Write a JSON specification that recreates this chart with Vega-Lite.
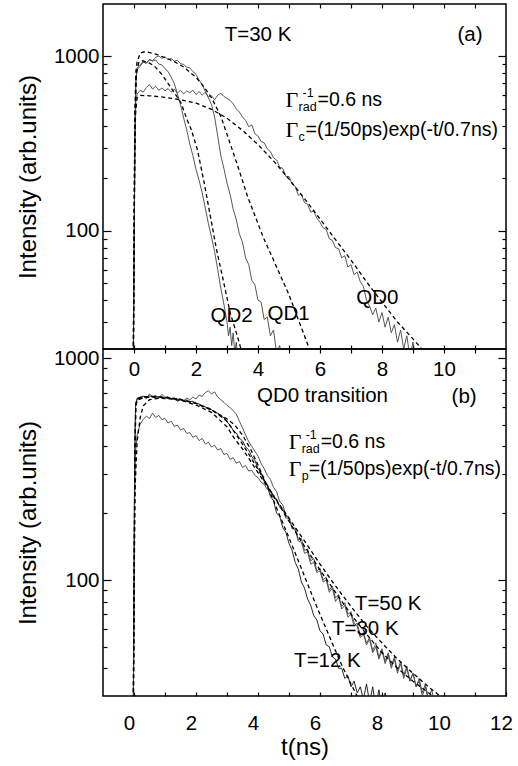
{
"$schema":"https://vega.github.io/schema/vega-lite/v6.json",
"padding":{"left":15,"top":2,"right":13,"bottom":2},
"background":"white",
"spacing":0,
"bounds":"flush",
"config":{
"view":{"stroke":"black","strokeWidth":1.5},
"font":"Liberation Sans",
"axis":{"labelFont":"Liberation Sans","labelFontSize":20.5,"titleFont":"Liberation Sans","titleFontSize":24,"titleFontWeight":"normal","labelColor":"black","titleColor":"black","tickColor":"black","tickWidth":1.2,"domain":false,"grid":false,"labelFlush":false,"labelOverlap":false},
"text":{"font":"Liberation Sans","fontSize":20.5,"color":"black"}
},
"datasets":{
"a":[
{"s":"a0","t":-0.02,"v":20},{"s":"a0","t":0.03,"v":300},{"s":"a0","t":0.06,"v":560},{"s":"a0","t":0.1,"v":610},{"s":"a0","t":0.2,"v":640},{"s":"a0","t":0.3,"v":625},{"s":"a0","t":0.4,"v":665},{"s":"a0","t":0.5,"v":690},{"s":"a0","t":0.6,"v":650},{"s":"a0","t":0.7,"v":675},{"s":"a0","t":0.8,"v":640},{"s":"a0","t":0.9,"v":660},{"s":"a0","t":1.0,"v":635},{"s":"a0","t":1.1,"v":655},{"s":"a0","t":1.2,"v":625},{"s":"a0","t":1.3,"v":650},{"s":"a0","t":1.4,"v":615},{"s":"a0","t":1.5,"v":640},{"s":"a0","t":1.6,"v":610},{"s":"a0","t":1.7,"v":635},{"s":"a0","t":1.8,"v":620},{"s":"a0","t":1.9,"v":640},{"s":"a0","t":2.0,"v":605},{"s":"a0","t":2.1,"v":630},{"s":"a0","t":2.2,"v":600},{"s":"a0","t":2.3,"v":625},{"s":"a0","t":2.4,"v":585},{"s":"a0","t":2.5,"v":595},{"s":"a0","t":2.6,"v":565},{"s":"a0","t":2.7,"v":600},{"s":"a0","t":2.8,"v":615},{"s":"a0","t":2.9,"v":590},{"s":"a0","t":3.0,"v":575},{"s":"a0","t":3.1,"v":560},{"s":"a0","t":3.2,"v":535},{"s":"a0","t":3.3,"v":500},{"s":"a0","t":3.4,"v":480},{"s":"a0","t":3.5,"v":450},{"s":"a0","t":3.6,"v":430},{"s":"a0","t":3.7,"v":395},{"s":"a0","t":3.8,"v":405},{"s":"a0","t":3.9,"v":360},{"s":"a0","t":4.0,"v":350},{"s":"a0","t":4.1,"v":325},{"s":"a0","t":4.2,"v":320},{"s":"a0","t":4.3,"v":295},{"s":"a0","t":4.4,"v":285},{"s":"a0","t":4.5,"v":262},{"s":"a0","t":4.6,"v":255},{"s":"a0","t":4.7,"v":232},{"s":"a0","t":4.8,"v":228},{"s":"a0","t":4.9,"v":205},{"s":"a0","t":5.0,"v":205},{"s":"a0","t":5.1,"v":185},{"s":"a0","t":5.2,"v":180},{"s":"a0","t":5.3,"v":160},{"s":"a0","t":5.4,"v":162},{"s":"a0","t":5.5,"v":145},{"s":"a0","t":5.6,"v":142},{"s":"a0","t":5.7,"v":128},{"s":"a0","t":5.8,"v":130},{"s":"a0","t":5.9,"v":118},{"s":"a0","t":6.0,"v":112},{"s":"a0","t":6.1,"v":104},{"s":"a0","t":6.2,"v":102},{"s":"a0","t":6.3,"v":90},{"s":"a0","t":6.4,"v":88},{"s":"a0","t":6.5,"v":80},{"s":"a0","t":6.6,"v":79},{"s":"a0","t":6.7,"v":70},{"s":"a0","t":6.8,"v":72},{"s":"a0","t":6.9,"v":62},{"s":"a0","t":7.0,"v":64},{"s":"a0","t":7.1,"v":56},{"s":"a0","t":7.2,"v":58},{"s":"a0","t":7.3,"v":51},{"s":"a0","t":7.4,"v":48},{"s":"a0","t":7.5,"v":40},{"s":"a0","t":7.6,"v":37},{"s":"a0","t":7.7,"v":33},{"s":"a0","t":7.8,"v":36},{"s":"a0","t":7.9,"v":30},{"s":"a0","t":8.0,"v":34},{"s":"a0","t":8.1,"v":28},{"s":"a0","t":8.2,"v":32},{"s":"a0","t":8.3,"v":26},{"s":"a0","t":8.4,"v":29},{"s":"a0","t":8.5,"v":23},{"s":"a0","t":8.6,"v":27},{"s":"a0","t":8.7,"v":21},{"s":"a0","t":8.8,"v":25},{"s":"a0","t":8.9,"v":19},{"s":"a0","t":9.0,"v":23},{"s":"a0","t":9.1,"v":18},{"s":"a0","t":9.2,"v":21},{"s":"a0","t":9.3,"v":16},
{"s":"a1","t":-0.02,"v":20},{"s":"a1","t":0.03,"v":400},{"s":"a1","t":0.06,"v":750},{"s":"a1","t":0.1,"v":860},{"s":"a1","t":0.2,"v":900},{"s":"a1","t":0.3,"v":930},{"s":"a1","t":0.4,"v":915},{"s":"a1","t":0.5,"v":960},{"s":"a1","t":0.6,"v":945},{"s":"a1","t":0.7,"v":990},{"s":"a1","t":0.8,"v":1005},{"s":"a1","t":0.9,"v":975},{"s":"a1","t":1.0,"v":995},{"s":"a1","t":1.1,"v":960},{"s":"a1","t":1.2,"v":975},{"s":"a1","t":1.3,"v":940},{"s":"a1","t":1.4,"v":950},{"s":"a1","t":1.5,"v":910},{"s":"a1","t":1.6,"v":900},{"s":"a1","t":1.7,"v":870},{"s":"a1","t":1.8,"v":860},{"s":"a1","t":1.9,"v":820},{"s":"a1","t":2.0,"v":790},{"s":"a1","t":2.1,"v":730},{"s":"a1","t":2.2,"v":690},{"s":"a1","t":2.3,"v":630},{"s":"a1","t":2.4,"v":580},{"s":"a1","t":2.5,"v":530},{"s":"a1","t":2.6,"v":450},{"s":"a1","t":2.7,"v":350},{"s":"a1","t":2.8,"v":270},{"s":"a1","t":2.9,"v":228},{"s":"a1","t":3.0,"v":188},{"s":"a1","t":3.1,"v":162},{"s":"a1","t":3.2,"v":133},{"s":"a1","t":3.3,"v":116},{"s":"a1","t":3.4,"v":96},{"s":"a1","t":3.5,"v":86},{"s":"a1","t":3.6,"v":70},{"s":"a1","t":3.7,"v":64},{"s":"a1","t":3.8,"v":52},{"s":"a1","t":3.9,"v":49},{"s":"a1","t":4.0,"v":40},{"s":"a1","t":4.1,"v":39},{"s":"a1","t":4.2,"v":31},{"s":"a1","t":4.3,"v":32},{"s":"a1","t":4.4,"v":25},{"s":"a1","t":4.5,"v":27},{"s":"a1","t":4.6,"v":20},{"s":"a1","t":4.7,"v":22},{"s":"a1","t":4.8,"v":17},
{"s":"a2","t":-0.02,"v":20},{"s":"a2","t":0.03,"v":350},{"s":"a2","t":0.06,"v":700},{"s":"a2","t":0.1,"v":840},{"s":"a2","t":0.2,"v":880},{"s":"a2","t":0.3,"v":930},{"s":"a2","t":0.4,"v":915},{"s":"a2","t":0.5,"v":960},{"s":"a2","t":0.6,"v":940},{"s":"a2","t":0.7,"v":955},{"s":"a2","t":0.8,"v":905},{"s":"a2","t":0.9,"v":895},{"s":"a2","t":1.0,"v":850},{"s":"a2","t":1.1,"v":820},{"s":"a2","t":1.2,"v":760},{"s":"a2","t":1.3,"v":700},{"s":"a2","t":1.4,"v":610},{"s":"a2","t":1.5,"v":530},{"s":"a2","t":1.6,"v":445},{"s":"a2","t":1.7,"v":380},{"s":"a2","t":1.8,"v":315},{"s":"a2","t":1.9,"v":270},{"s":"a2","t":2.0,"v":225},{"s":"a2","t":2.1,"v":195},{"s":"a2","t":2.2,"v":165},{"s":"a2","t":2.3,"v":135},{"s":"a2","t":2.4,"v":110},{"s":"a2","t":2.5,"v":92},{"s":"a2","t":2.6,"v":76},{"s":"a2","t":2.7,"v":60},{"s":"a2","t":2.8,"v":47},{"s":"a2","t":2.9,"v":38},{"s":"a2","t":3.0,"v":30},{"s":"a2","t":3.05,"v":25},{"s":"a2","t":3.1,"v":28},{"s":"a2","t":3.15,"v":22},{"s":"a2","t":3.2,"v":26},{"s":"a2","t":3.25,"v":20},{"s":"a2","t":3.3,"v":23},{"s":"a2","t":3.35,"v":18},
{"s":"fa0","t":-0.02,"v":20},{"s":"fa0","t":0.02,"v":300},{"s":"fa0","t":0.05,"v":470},{"s":"fa0","t":0.1,"v":580},{"s":"fa0","t":0.2,"v":598},{"s":"fa0","t":0.5,"v":595},{"s":"fa0","t":1.0,"v":583},{"s":"fa0","t":1.5,"v":565},{"s":"fa0","t":2.0,"v":540},{"s":"fa0","t":2.5,"v":498},{"s":"fa0","t":3.0,"v":442},{"s":"fa0","t":3.5,"v":377},{"s":"fa0","t":4.0,"v":312},{"s":"fa0","t":4.5,"v":252},{"s":"fa0","t":5.0,"v":198},{"s":"fa0","t":5.5,"v":153},{"s":"fa0","t":6.0,"v":117},{"s":"fa0","t":6.5,"v":89},{"s":"fa0","t":7.0,"v":68},{"s":"fa0","t":7.5,"v":51},{"s":"fa0","t":8.0,"v":39},{"s":"fa0","t":8.5,"v":30},{"s":"fa0","t":9.0,"v":24},{"s":"fa0","t":9.5,"v":19},
{"s":"fa1","t":-0.02,"v":20},{"s":"fa1","t":0.03,"v":500},{"s":"fa1","t":0.06,"v":820},{"s":"fa1","t":0.1,"v":930},{"s":"fa1","t":0.2,"v":1045},{"s":"fa1","t":0.3,"v":1062},{"s":"fa1","t":0.45,"v":1058},{"s":"fa1","t":0.7,"v":1030},{"s":"fa1","t":1.0,"v":985},{"s":"fa1","t":1.3,"v":935},{"s":"fa1","t":1.6,"v":870},{"s":"fa1","t":2.0,"v":760},{"s":"fa1","t":2.2,"v":690},{"s":"fa1","t":2.5,"v":580},{"s":"fa1","t":2.8,"v":455},{"s":"fa1","t":3.12,"v":310},{"s":"fa1","t":3.4,"v":220},{"s":"fa1","t":3.66,"v":158},{"s":"fa1","t":4.0,"v":110},{"s":"fa1","t":4.19,"v":90},{"s":"fa1","t":4.5,"v":68},{"s":"fa1","t":4.73,"v":55},{"s":"fa1","t":5.0,"v":43},{"s":"fa1","t":5.27,"v":32},{"s":"fa1","t":5.5,"v":25},{"s":"fa1","t":5.7,"v":20},
{"s":"fa2","t":-0.02,"v":20},{"s":"fa2","t":0.03,"v":400},{"s":"fa2","t":0.08,"v":800},{"s":"fa2","t":0.15,"v":920},{"s":"fa2","t":0.28,"v":945},{"s":"fa2","t":0.5,"v":915},{"s":"fa2","t":0.65,"v":884},{"s":"fa2","t":0.9,"v":790},{"s":"fa2","t":1.08,"v":709},{"s":"fa2","t":1.3,"v":620},{"s":"fa2","t":1.51,"v":545},{"s":"fa2","t":1.7,"v":440},{"s":"fa2","t":1.85,"v":380},{"s":"fa2","t":2.05,"v":290},{"s":"fa2","t":2.26,"v":190},{"s":"fa2","t":2.45,"v":125},{"s":"fa2","t":2.65,"v":80},{"s":"fa2","t":2.9,"v":50},{"s":"fa2","t":3.1,"v":34},{"s":"fa2","t":3.33,"v":25},{"s":"fa2","t":3.45,"v":21},{"s":"fa2","t":3.55,"v":18}
],
"b":[
{"s":"b12","t":-0.02,"v":29},{"s":"b12","t":0.02,"v":300},{"s":"b12","t":0.05,"v":620},{"s":"b12","t":0.1,"v":660},{"s":"b12","t":0.2,"v":668},{"s":"b12","t":0.3,"v":674},{"s":"b12","t":0.4,"v":668},{"s":"b12","t":0.5,"v":676},{"s":"b12","t":0.6,"v":670},{"s":"b12","t":0.7,"v":674},{"s":"b12","t":0.8,"v":666},{"s":"b12","t":0.9,"v":670},{"s":"b12","t":1.0,"v":662},{"s":"b12","t":1.1,"v":666},{"s":"b12","t":1.2,"v":658},{"s":"b12","t":1.3,"v":662},{"s":"b12","t":1.4,"v":652},{"s":"b12","t":1.5,"v":656},{"s":"b12","t":1.6,"v":645},{"s":"b12","t":1.7,"v":648},{"s":"b12","t":1.8,"v":636},{"s":"b12","t":1.9,"v":640},{"s":"b12","t":2.0,"v":625},{"s":"b12","t":2.1,"v":622},{"s":"b12","t":2.2,"v":606},{"s":"b12","t":2.3,"v":604},{"s":"b12","t":2.4,"v":588},{"s":"b12","t":2.5,"v":586},{"s":"b12","t":2.6,"v":570},{"s":"b12","t":2.7,"v":566},{"s":"b12","t":2.8,"v":548},{"s":"b12","t":2.9,"v":540},{"s":"b12","t":3.0,"v":515},{"s":"b12","t":3.1,"v":500},{"s":"b12","t":3.2,"v":472},{"s":"b12","t":3.3,"v":460},{"s":"b12","t":3.4,"v":436},{"s":"b12","t":3.5,"v":424},{"s":"b12","t":3.6,"v":398},{"s":"b12","t":3.7,"v":386},{"s":"b12","t":3.8,"v":360},{"s":"b12","t":3.9,"v":346},{"s":"b12","t":4.0,"v":318},{"s":"b12","t":4.1,"v":304},{"s":"b12","t":4.2,"v":278},{"s":"b12","t":4.3,"v":266},{"s":"b12","t":4.4,"v":238},{"s":"b12","t":4.5,"v":228},{"s":"b12","t":4.6,"v":200},{"s":"b12","t":4.7,"v":194},{"s":"b12","t":4.8,"v":172},{"s":"b12","t":4.9,"v":164},{"s":"b12","t":5.0,"v":146},{"s":"b12","t":5.1,"v":136},{"s":"b12","t":5.2,"v":120},{"s":"b12","t":5.3,"v":112},{"s":"b12","t":5.4,"v":98},{"s":"b12","t":5.5,"v":92},{"s":"b12","t":5.6,"v":82},{"s":"b12","t":5.7,"v":77},{"s":"b12","t":5.8,"v":69},{"s":"b12","t":5.9,"v":66},{"s":"b12","t":6.0,"v":59},{"s":"b12","t":6.1,"v":57},{"s":"b12","t":6.2,"v":51},{"s":"b12","t":6.3,"v":50},{"s":"b12","t":6.4,"v":45},{"s":"b12","t":6.5,"v":44},{"s":"b12","t":6.6,"v":40},{"s":"b12","t":6.7,"v":40},{"s":"b12","t":6.8,"v":36},{"s":"b12","t":6.9,"v":37},{"s":"b12","t":7.0,"v":33},{"s":"b12","t":7.1,"v":35},{"s":"b12","t":7.2,"v":31},{"s":"b12","t":7.3,"v":33},{"s":"b12","t":7.4,"v":29},{"s":"b12","t":7.5,"v":34},{"s":"b12","t":7.6,"v":28},{"s":"b12","t":7.7,"v":33},{"s":"b12","t":7.8,"v":27},{"s":"b12","t":7.9,"v":32},{"s":"b12","t":8.0,"v":26},{"s":"b12","t":8.1,"v":31},{"s":"b12","t":8.2,"v":27},{"s":"b12","t":8.3,"v":30},{"s":"b12","t":8.4,"v":25},{"s":"b12","t":8.5,"v":29},{"s":"b12","t":8.6,"v":24},{"s":"b12","t":8.7,"v":28},{"s":"b12","t":8.8,"v":23},{"s":"b12","t":8.9,"v":26},
{"s":"b30","t":-0.02,"v":29},{"s":"b30","t":0.02,"v":350},{"s":"b30","t":0.05,"v":610},{"s":"b30","t":0.1,"v":650},{"s":"b30","t":0.2,"v":660},{"s":"b30","t":0.3,"v":672},{"s":"b30","t":0.4,"v":655},{"s":"b30","t":0.5,"v":690},{"s":"b30","t":0.6,"v":670},{"s":"b30","t":0.7,"v":680},{"s":"b30","t":0.8,"v":660},{"s":"b30","t":0.9,"v":688},{"s":"b30","t":1.0,"v":665},{"s":"b30","t":1.1,"v":672},{"s":"b30","t":1.2,"v":650},{"s":"b30","t":1.3,"v":660},{"s":"b30","t":1.4,"v":638},{"s":"b30","t":1.5,"v":652},{"s":"b30","t":1.6,"v":640},{"s":"b30","t":1.7,"v":662},{"s":"b30","t":1.8,"v":648},{"s":"b30","t":1.9,"v":668},{"s":"b30","t":2.0,"v":655},{"s":"b30","t":2.1,"v":682},{"s":"b30","t":2.2,"v":672},{"s":"b30","t":2.3,"v":700},{"s":"b30","t":2.4,"v":712},{"s":"b30","t":2.5,"v":690},{"s":"b30","t":2.6,"v":705},{"s":"b30","t":2.7,"v":668},{"s":"b30","t":2.8,"v":650},{"s":"b30","t":2.9,"v":632},{"s":"b30","t":3.0,"v":612},{"s":"b30","t":3.1,"v":598},{"s":"b30","t":3.2,"v":580},{"s":"b30","t":3.3,"v":560},{"s":"b30","t":3.4,"v":520},{"s":"b30","t":3.5,"v":485},{"s":"b30","t":3.6,"v":450},{"s":"b30","t":3.7,"v":420},{"s":"b30","t":3.8,"v":400},{"s":"b30","t":3.9,"v":380},{"s":"b30","t":4.0,"v":362},{"s":"b30","t":4.1,"v":335},{"s":"b30","t":4.2,"v":318},{"s":"b30","t":4.3,"v":296},{"s":"b30","t":4.4,"v":284},{"s":"b30","t":4.5,"v":262},{"s":"b30","t":4.6,"v":250},{"s":"b30","t":4.7,"v":226},{"s":"b30","t":4.8,"v":218},{"s":"b30","t":4.9,"v":196},{"s":"b30","t":5.0,"v":192},{"s":"b30","t":5.1,"v":172},{"s":"b30","t":5.2,"v":168},{"s":"b30","t":5.3,"v":150},{"s":"b30","t":5.4,"v":148},{"s":"b30","t":5.5,"v":132},{"s":"b30","t":5.6,"v":134},{"s":"b30","t":5.7,"v":118},{"s":"b30","t":5.8,"v":120},{"s":"b30","t":5.9,"v":108},{"s":"b30","t":6.0,"v":110},{"s":"b30","t":6.1,"v":98},{"s":"b30","t":6.2,"v":100},{"s":"b30","t":6.3,"v":88},{"s":"b30","t":6.4,"v":92},{"s":"b30","t":6.5,"v":80},{"s":"b30","t":6.6,"v":84},{"s":"b30","t":6.7,"v":74},{"s":"b30","t":6.8,"v":77},{"s":"b30","t":6.9,"v":68},{"s":"b30","t":7.0,"v":70},{"s":"b30","t":7.1,"v":62},{"s":"b30","t":7.2,"v":64},{"s":"b30","t":7.3,"v":56},{"s":"b30","t":7.4,"v":58},{"s":"b30","t":7.5,"v":52},{"s":"b30","t":7.6,"v":55},{"s":"b30","t":7.7,"v":48},{"s":"b30","t":7.8,"v":52},{"s":"b30","t":7.9,"v":45},{"s":"b30","t":8.0,"v":49},{"s":"b30","t":8.1,"v":43},{"s":"b30","t":8.2,"v":47},{"s":"b30","t":8.3,"v":41},{"s":"b30","t":8.4,"v":45},{"s":"b30","t":8.5,"v":39},{"s":"b30","t":8.6,"v":43},{"s":"b30","t":8.7,"v":37},{"s":"b30","t":8.8,"v":41},{"s":"b30","t":8.9,"v":35},{"s":"b30","t":9.0,"v":38},{"s":"b30","t":9.1,"v":33},{"s":"b30","t":9.2,"v":36},{"s":"b30","t":9.3,"v":31},{"s":"b30","t":9.4,"v":34},{"s":"b30","t":9.5,"v":29},{"s":"b30","t":9.6,"v":32},{"s":"b30","t":9.7,"v":28},
{"s":"b50","t":-0.02,"v":29},{"s":"b50","t":0.02,"v":220},{"s":"b50","t":0.05,"v":380},{"s":"b50","t":0.1,"v":450},{"s":"b50","t":0.2,"v":505},{"s":"b50","t":0.3,"v":530},{"s":"b50","t":0.4,"v":548},{"s":"b50","t":0.5,"v":535},{"s":"b50","t":0.6,"v":566},{"s":"b50","t":0.7,"v":540},{"s":"b50","t":0.8,"v":552},{"s":"b50","t":0.9,"v":528},{"s":"b50","t":1.0,"v":535},{"s":"b50","t":1.1,"v":510},{"s":"b50","t":1.2,"v":520},{"s":"b50","t":1.3,"v":492},{"s":"b50","t":1.4,"v":500},{"s":"b50","t":1.5,"v":475},{"s":"b50","t":1.6,"v":482},{"s":"b50","t":1.7,"v":458},{"s":"b50","t":1.8,"v":462},{"s":"b50","t":1.9,"v":440},{"s":"b50","t":2.0,"v":448},{"s":"b50","t":2.1,"v":425},{"s":"b50","t":2.2,"v":435},{"s":"b50","t":2.3,"v":410},{"s":"b50","t":2.4,"v":418},{"s":"b50","t":2.5,"v":398},{"s":"b50","t":2.6,"v":405},{"s":"b50","t":2.7,"v":385},{"s":"b50","t":2.8,"v":392},{"s":"b50","t":2.9,"v":368},{"s":"b50","t":3.0,"v":372},{"s":"b50","t":3.1,"v":350},{"s":"b50","t":3.2,"v":356},{"s":"b50","t":3.3,"v":336},{"s":"b50","t":3.4,"v":342},{"s":"b50","t":3.5,"v":322},{"s":"b50","t":3.6,"v":328},{"s":"b50","t":3.7,"v":310},{"s":"b50","t":3.8,"v":312},{"s":"b50","t":3.9,"v":296},{"s":"b50","t":4.0,"v":290},{"s":"b50","t":4.1,"v":276},{"s":"b50","t":4.2,"v":270},{"s":"b50","t":4.3,"v":256},{"s":"b50","t":4.4,"v":250},{"s":"b50","t":4.5,"v":234},{"s":"b50","t":4.6,"v":232},{"s":"b50","t":4.7,"v":212},{"s":"b50","t":4.8,"v":210},{"s":"b50","t":4.9,"v":190},{"s":"b50","t":5.0,"v":190},{"s":"b50","t":5.1,"v":170},{"s":"b50","t":5.2,"v":172},{"s":"b50","t":5.3,"v":152},{"s":"b50","t":5.4,"v":154},{"s":"b50","t":5.5,"v":136},{"s":"b50","t":5.6,"v":138},{"s":"b50","t":5.7,"v":122},{"s":"b50","t":5.8,"v":125},{"s":"b50","t":5.9,"v":110},{"s":"b50","t":6.0,"v":113},{"s":"b50","t":6.1,"v":100},{"s":"b50","t":6.2,"v":103},{"s":"b50","t":6.3,"v":90},{"s":"b50","t":6.4,"v":94},{"s":"b50","t":6.5,"v":83},{"s":"b50","t":6.6,"v":86},{"s":"b50","t":6.7,"v":76},{"s":"b50","t":6.8,"v":79},{"s":"b50","t":6.9,"v":70},{"s":"b50","t":7.0,"v":72},{"s":"b50","t":7.1,"v":64},{"s":"b50","t":7.2,"v":62},{"s":"b50","t":7.3,"v":55},{"s":"b50","t":7.4,"v":57},{"s":"b50","t":7.5,"v":51},{"s":"b50","t":7.6,"v":54},{"s":"b50","t":7.7,"v":47},{"s":"b50","t":7.8,"v":50},{"s":"b50","t":7.9,"v":44},{"s":"b50","t":8.0,"v":48},{"s":"b50","t":8.1,"v":42},{"s":"b50","t":8.2,"v":46},{"s":"b50","t":8.3,"v":40},{"s":"b50","t":8.4,"v":44},{"s":"b50","t":8.5,"v":38},{"s":"b50","t":8.6,"v":42},{"s":"b50","t":8.7,"v":36},{"s":"b50","t":8.8,"v":40},{"s":"b50","t":8.9,"v":35},{"s":"b50","t":9.0,"v":38},{"s":"b50","t":9.1,"v":33},{"s":"b50","t":9.2,"v":35},{"s":"b50","t":9.3,"v":30},{"s":"b50","t":9.4,"v":33},{"s":"b50","t":9.5,"v":28},
{"s":"fb12","t":-0.02,"v":29},{"s":"fb12","t":0.03,"v":400},{"s":"fb12","t":0.06,"v":620},{"s":"fb12","t":0.1,"v":655},{"s":"fb12","t":0.3,"v":670},{"s":"fb12","t":0.6,"v":672},{"s":"fb12","t":1.0,"v":666},{"s":"fb12","t":1.5,"v":650},{"s":"fb12","t":2.0,"v":625},{"s":"fb12","t":2.5,"v":585},{"s":"fb12","t":3.0,"v":532},{"s":"fb12","t":3.25,"v":500},{"s":"fb12","t":3.5,"v":450},{"s":"fb12","t":3.75,"v":392},{"s":"fb12","t":4.0,"v":330},{"s":"fb12","t":4.25,"v":275},{"s":"fb12","t":4.5,"v":228},{"s":"fb12","t":4.75,"v":188},{"s":"fb12","t":5.0,"v":155},{"s":"fb12","t":5.25,"v":127},{"s":"fb12","t":5.5,"v":104},{"s":"fb12","t":5.75,"v":85},{"s":"fb12","t":6.0,"v":70},{"s":"fb12","t":6.25,"v":58},{"s":"fb12","t":6.5,"v":48},{"s":"fb12","t":6.75,"v":40},{"s":"fb12","t":7.0,"v":34},{"s":"fb12","t":7.25,"v":29},
{"s":"fb30","t":-0.02,"v":29},{"s":"fb30","t":0.03,"v":380},{"s":"fb30","t":0.06,"v":600},{"s":"fb30","t":0.1,"v":645},{"s":"fb30","t":0.3,"v":665},{"s":"fb30","t":0.6,"v":668},{"s":"fb30","t":1.0,"v":664},{"s":"fb30","t":1.5,"v":650},{"s":"fb30","t":2.0,"v":626},{"s":"fb30","t":2.5,"v":588},{"s":"fb30","t":3.0,"v":520},{"s":"fb30","t":3.25,"v":462},{"s":"fb30","t":3.5,"v":410},{"s":"fb30","t":3.75,"v":360},{"s":"fb30","t":4.0,"v":315},{"s":"fb30","t":4.25,"v":275},{"s":"fb30","t":4.5,"v":240},{"s":"fb30","t":4.75,"v":210},{"s":"fb30","t":5.0,"v":184},{"s":"fb30","t":5.5,"v":142},{"s":"fb30","t":6.0,"v":111},{"s":"fb30","t":6.5,"v":88},{"s":"fb30","t":7.0,"v":70},{"s":"fb30","t":7.5,"v":57},{"s":"fb30","t":8.0,"v":47},{"s":"fb30","t":8.5,"v":40},{"s":"fb30","t":9.0,"v":35},{"s":"fb30","t":9.5,"v":31},{"s":"fb30","t":9.8,"v":29},
{"s":"fb50","t":-0.02,"v":29},{"s":"fb50","t":0.03,"v":250},{"s":"fb50","t":0.1,"v":420},{"s":"fb50","t":0.2,"v":540},{"s":"fb50","t":0.3,"v":610},{"s":"fb50","t":0.5,"v":650},{"s":"fb50","t":0.8,"v":660},{"s":"fb50","t":1.2,"v":655},{"s":"fb50","t":1.6,"v":640},{"s":"fb50","t":2.0,"v":615},{"s":"fb50","t":2.5,"v":570},{"s":"fb50","t":3.0,"v":490},{"s":"fb50","t":3.25,"v":432},{"s":"fb50","t":3.5,"v":390},{"s":"fb50","t":3.75,"v":345},{"s":"fb50","t":4.0,"v":305},{"s":"fb50","t":4.25,"v":270},{"s":"fb50","t":4.5,"v":240},{"s":"fb50","t":4.75,"v":213},{"s":"fb50","t":5.0,"v":190},{"s":"fb50","t":5.5,"v":150},{"s":"fb50","t":6.0,"v":118},{"s":"fb50","t":6.5,"v":94},{"s":"fb50","t":7.0,"v":76},{"s":"fb50","t":7.5,"v":62},{"s":"fb50","t":8.0,"v":52},{"s":"fb50","t":8.5,"v":44},{"s":"fb50","t":9.0,"v":38},{"s":"fb50","t":9.5,"v":33},{"s":"fb50","t":10.0,"v":29}
],
"na":[{"t":4.0,"v":1320,"txt":"T=30 K"},{"t":10.84,"v":1320,"txt":"(a)"},{"t":7.85,"v":41,"txt":"QD0"},{"t":4.99,"v":33.3,"txt":"QD1"},{"t":3.15,"v":32.5,"txt":"QD2"}],
"ga":[{"t":4.89,"v":566,"sub":"rad","sup":"-1","rest":"=0.6 ns","n":1},{"t":4.89,"v":380,"sub":"c","sup":"","rest":"=(1/50ps)exp(-t/0.7ns)","n":2}],
"nb":[{"t":6.08,"v":674,"txt":"QD0 transition"},{"t":10.65,"v":667,"txt":"(b)"},{"t":8.2,"v":78,"txt":"T=50 K"},{"t":7.46,"v":60.1,"txt":"T=30 K"},{"t":6.24,"v":43.2,"txt":"T=12 K"}],
"gb":[{"t":4.99,"v":418,"sub":"rad","sup":"-1","rest":"=0.6 ns","n":1},{"t":4.99,"v":316,"sub":"p","sup":"","rest":"=(1/50ps)exp(-t/0.7ns)","n":2}]
},
"vconcat":[
{
"width":403,"height":345,
"resolve":{"axis":{"x":"independent","y":"independent"}},
"layer":[
{"data":{"name":"a"},"transform":[{"filter":"indexof(datum.s,'f')<0"}],
"mark":{"type":"line","clip":true,"strokeWidth":0.9,"color":"#444444"},
"encoding":{
"x":{"field":"t","type":"quantitative","scale":{"domain":[-1,12],"nice":false,"zero":false},"axis":{"orient":"bottom","values":[0,1,2,3,4,5,6,7,8,9,10,11],"labelExpr":"datum.value % 2 == 0 ? datum.label : ''","tickSize":-4,"labelPadding":14,"title":null}},
"y":{"field":"v","type":"quantitative","scale":{"type":"log","domain":[21,2000],"nice":false},"axis":{"orient":"left","values":[30,40,50,60,70,80,90,100,200,300,400,500,600,700,800,900,1000],"labelExpr":"datum.value==100?'100':datum.value==1000?'1000':''","tickSize":{"condition":{"test":"datum.value==100||datum.value==1000","value":-8},"value":-4},"labelPadding":12,"title":"Intensity (arb.units)","titlePadding":13}},
"detail":{"field":"s"}}},
{"data":{"name":"a"},"transform":[{"filter":"indexof(datum.s,'f')==0"}],
"mark":{"type":"line","clip":true,"strokeWidth":1.3,"color":"black","strokeDash":[4,3]},
"encoding":{
"x":{"field":"t","type":"quantitative","scale":{"domain":[-1,12],"nice":false,"zero":false},"axis":{"orient":"top","values":[0,1,2,3,4,5,6,7,8,9,10,11],"labels":false,"tickSize":-4,"title":null}},
"y":{"field":"v","type":"quantitative","scale":{"type":"log","domain":[21,2000],"nice":false},"axis":{"orient":"right","values":[30,40,50,60,70,80,90,100,200,300,400,500,600,700,800,900,1000],"labels":false,"tickSize":{"condition":{"test":"datum.value==100||datum.value==1000","value":-8},"value":-4},"title":null}},
"detail":{"field":"s"}}},
{"data":{"name":"na"},"mark":{"type":"text","align":"center","baseline":"middle","fontSize":20.5},
"encoding":{"x":{"field":"t","type":"quantitative","scale":{"domain":[-1,12],"nice":false,"zero":false},"axis":null},"y":{"field":"v","type":"quantitative","scale":{"type":"log","domain":[21,2000],"nice":false},"axis":null},"text":{"field":"txt"}}},
{"data":{"name":"ga"},"mark":{"type":"text","align":"left","baseline":"middle","font":"Liberation Serif","fontSize":22},
"encoding":{"x":{"field":"t","type":"quantitative","scale":{"domain":[-1,12],"nice":false,"zero":false},"axis":null},"y":{"field":"v","type":"quantitative","scale":{"type":"log","domain":[21,2000],"nice":false},"axis":null},"text":{"value":"Γ"}}},
{"data":{"name":"ga"},"mark":{"type":"text","align":"left","baseline":"middle","fontSize":12.5,"dx":13,"dy":7},
"encoding":{"x":{"field":"t","type":"quantitative","scale":{"domain":[-1,12],"nice":false,"zero":false},"axis":null},"y":{"field":"v","type":"quantitative","scale":{"type":"log","domain":[21,2000],"nice":false},"axis":null},"text":{"field":"sub"}}},
{"data":{"name":"ga"},"mark":{"type":"text","align":"left","baseline":"middle","fontSize":12.5,"dx":17,"dy":-7},
"encoding":{"x":{"field":"t","type":"quantitative","scale":{"domain":[-1,12],"nice":false,"zero":false},"axis":null},"y":{"field":"v","type":"quantitative","scale":{"type":"log","domain":[21,2000],"nice":false},"axis":null},"text":{"field":"sup"}}},
{"data":{"name":"ga"},"transform":[{"filter":"datum.n==1"}],"mark":{"type":"text","align":"left","baseline":"middle","fontSize":19.5,"dx":32},
"encoding":{"x":{"field":"t","type":"quantitative","scale":{"domain":[-1,12],"nice":false,"zero":false},"axis":null},"y":{"field":"v","type":"quantitative","scale":{"type":"log","domain":[21,2000],"nice":false},"axis":null},"text":{"field":"rest"}}},
{"data":{"name":"ga"},"transform":[{"filter":"datum.n==2"}],"mark":{"type":"text","align":"left","baseline":"middle","fontSize":19.5,"dx":20},
"encoding":{"x":{"field":"t","type":"quantitative","scale":{"domain":[-1,12],"nice":false,"zero":false},"axis":null},"y":{"field":"v","type":"quantitative","scale":{"type":"log","domain":[21,2000],"nice":false},"axis":null},"text":{"field":"rest"}}}
]
},
{
"width":403,"height":347,
"resolve":{"axis":{"x":"independent","y":"independent"}},
"layer":[
{"data":{"name":"b"},"transform":[{"filter":"indexof(datum.s,'f')<0"}],
"mark":{"type":"line","clip":true,"strokeWidth":0.9},
"encoding":{
"x":{"field":"t","type":"quantitative","scale":{"domain":[-1,12],"nice":false,"zero":false},"axis":{"orient":"bottom","values":[0,1,2,3,4,5,6,7,8,9,10,11,12],"labelExpr":"datum.value % 2 == 0 ? datum.label : ''","tickSize":-4,"labelPadding":21,"labelOffset":-5,"title":"t(ns)","titlePadding":2}},
"y":{"field":"v","type":"quantitative","scale":{"type":"log","domain":[30,1100],"nice":false},"axis":{"orient":"left","values":[40,50,60,70,80,90,100,200,300,400,500,600,700,800,900,1000],"labelExpr":"datum.value==100?'100':datum.value==1000?'1000':''","tickSize":{"condition":{"test":"datum.value==100||datum.value==1000","value":-8},"value":-4},"labelPadding":12,"title":"Intensity (arb.units)","titlePadding":13}},
"color":{"field":"s","type":"nominal","scale":{"domain":["b12","b30","b50"],"range":["#111111","#444444","#444444"]},"legend":null}}},
{"data":{"name":"b"},"transform":[{"filter":"indexof(datum.s,'f')==0"}],
"mark":{"type":"line","clip":true,"strokeWidth":1.3,"color":"black","strokeDash":[4,3]},
"encoding":{
"x":{"field":"t","type":"quantitative","scale":{"domain":[-1,12],"nice":false,"zero":false},"axis":{"orient":"top","values":[0,1,2,3,4,5,6,7,8,9,10,11],"labels":false,"tickSize":-4,"title":null}},
"y":{"field":"v","type":"quantitative","scale":{"type":"log","domain":[30,1100],"nice":false},"axis":{"orient":"right","values":[40,50,60,70,80,90,100,200,300,400,500,600,700,800,900,1000],"labels":false,"tickSize":{"condition":{"test":"datum.value==100||datum.value==1000","value":-8},"value":-4},"title":null}},
"detail":{"field":"s"}}},
{"data":{"name":"nb"},"mark":{"type":"text","align":"center","baseline":"middle","fontSize":20.5},
"encoding":{"x":{"field":"t","type":"quantitative","scale":{"domain":[-1,12],"nice":false,"zero":false},"axis":null},"y":{"field":"v","type":"quantitative","scale":{"type":"log","domain":[30,1100],"nice":false},"axis":null},"text":{"field":"txt"}}},
{"data":{"name":"gb"},"mark":{"type":"text","align":"left","baseline":"middle","font":"Liberation Serif","fontSize":22},
"encoding":{"x":{"field":"t","type":"quantitative","scale":{"domain":[-1,12],"nice":false,"zero":false},"axis":null},"y":{"field":"v","type":"quantitative","scale":{"type":"log","domain":[30,1100],"nice":false},"axis":null},"text":{"value":"Γ"}}},
{"data":{"name":"gb"},"mark":{"type":"text","align":"left","baseline":"middle","fontSize":12.5,"dx":13,"dy":7},
"encoding":{"x":{"field":"t","type":"quantitative","scale":{"domain":[-1,12],"nice":false,"zero":false},"axis":null},"y":{"field":"v","type":"quantitative","scale":{"type":"log","domain":[30,1100],"nice":false},"axis":null},"text":{"field":"sub"}}},
{"data":{"name":"gb"},"mark":{"type":"text","align":"left","baseline":"middle","fontSize":12.5,"dx":17,"dy":-7},
"encoding":{"x":{"field":"t","type":"quantitative","scale":{"domain":[-1,12],"nice":false,"zero":false},"axis":null},"y":{"field":"v","type":"quantitative","scale":{"type":"log","domain":[30,1100],"nice":false},"axis":null},"text":{"field":"sup"}}},
{"data":{"name":"gb"},"transform":[{"filter":"datum.n==1"}],"mark":{"type":"text","align":"left","baseline":"middle","fontSize":19.5,"dx":32},
"encoding":{"x":{"field":"t","type":"quantitative","scale":{"domain":[-1,12],"nice":false,"zero":false},"axis":null},"y":{"field":"v","type":"quantitative","scale":{"type":"log","domain":[30,1100],"nice":false},"axis":null},"text":{"field":"rest"}}},
{"data":{"name":"gb"},"transform":[{"filter":"datum.n==2"}],"mark":{"type":"text","align":"left","baseline":"middle","fontSize":19.5,"dx":20},
"encoding":{"x":{"field":"t","type":"quantitative","scale":{"domain":[-1,12],"nice":false,"zero":false},"axis":null},"y":{"field":"v","type":"quantitative","scale":{"type":"log","domain":[30,1100],"nice":false},"axis":null},"text":{"field":"rest"}}}
]
}
]
}
